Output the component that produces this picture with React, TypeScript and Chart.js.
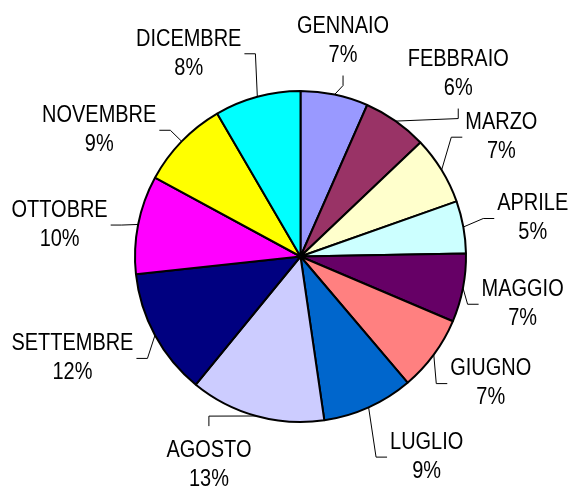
import React, { useEffect, useRef } from "react";
import { Chart, registerables } from "chart.js";

Chart.register(...registerables);

// ---- data ----
const MONTHS = [
  "GENNAIO", "FEBBRAIO", "MARZO", "APRILE", "MAGGIO", "GIUGNO",
  "LUGLIO", "AGOSTO", "SETTEMBRE", "OTTOBRE", "NOVEMBRE", "DICEMBRE",
];
const VALUES = [6.6, 6.3, 6.7, 5.1, 6.7, 7.4, 8.9, 13.2, 12.4, 9.6, 8.7, 8.4];
const COLORS = [
  "#9999FF", "#993366", "#FFFFCC", "#CCFFFF", "#660066", "#FF8080",
  "#0066CC", "#CCCCFF", "#000080", "#FF00FF", "#FFFF00", "#00FFFF",
];

// ---- label layout (manual drag offsets of the data labels, px) ----
const LABEL_NUDGE_X = [-8, 14, 0, 1, -14, -3, 29, -27, 1, 2, -17, -46];
const LABEL_NUDGE_Y = [2, -1, -4, 0, 3, -8, -6, -10, -7, 10, 28, 12];

const FONT_PX = 23;
const SCALE_X = 0.868;
const LINE_GAP = 29;
const CAP = 0.716 * FONT_PX;

const outsideLabels = {
  id: "outsideLabels",
  afterDatasetsDraw(chart: any) {
    const ctx: CanvasRenderingContext2D = chart.ctx;
    const meta = chart.getDatasetMeta(0);
    const data = chart.data.datasets[0].data as number[];
    const total = data.reduce((a, b) => a + b, 0);
    ctx.save();
    ctx.font = `${FONT_PX}px "Liberation Sans", Arial, sans-serif`;
    ctx.fillStyle = "#000";
    ctx.strokeStyle = "#000";
    ctx.lineWidth = 1;
    meta.data.forEach((el: any, i: number) => {
      const { x, y, startAngle, endAngle, outerRadius } = el.getProps(
        ["x", "y", "startAngle", "endAngle", "outerRadius"],
        true
      );
      const mid = (startAngle + endAngle) / 2;
      const dx = Math.cos(mid);
      const dy = Math.sin(mid);
      const ax = x + dx * outerRadius;
      const ay = y + dy * outerRadius;
      const name = String(chart.data.labels[i]);
      const pct = Math.round((data[i] / total) * 100) + "%";
      const w =
        Math.max(ctx.measureText(name).width, ctx.measureText(pct).width) *
        SCALE_X;
      const D = outerRadius + 34;
      const cx = x + dx * D + (dx * w) / 2 + LABEL_NUDGE_X[i];
      const cy = y + dy * D + dy * 25 + LABEL_NUDGE_Y[i];

      // text
      const lines = [name, pct];
      lines.forEach((t, k) => {
        const base = cy + (k === 0 ? -LINE_GAP / 2 : LINE_GAP / 2) + CAP / 2;
        ctx.save();
        ctx.translate(cx, base);
        ctx.scale(SCALE_X, 1);
        ctx.textAlign = "center";
        ctx.textBaseline = "alphabetic";
        ctx.fillText(t, 0, 0);
        ctx.restore();
      });

      // leader line
      const top = cy - LINE_GAP / 2 - CAP / 2;
      const bottom = cy + LINE_GAP / 2 + CAP / 2;
      const left = cx - w / 2;
      const right = cx + w / 2;
      let pts: number[][];
      if (ax >= left - 14 && ax <= right + 14) {
        if (ay > cy) {
          const ty = bottom + 14;
          const sy = Math.min(ty + 10, Math.max(ty, ay));
          pts = [[cx, ty], [cx, sy], [ax, ay]];
        } else {
          const ty = top - 14;
          const sy = Math.max(ty - 10, Math.min(ty, ay));
          pts = [[cx, ty], [cx, sy], [ax, ay]];
        }
      } else if (ax < left) {
        pts = [[left - 3, cy + 2], [left - 14, cy + 2], [ax, ay]];
      } else {
        pts = [[right + 3, cy + 2], [right + 14, cy + 2], [ax, ay]];
      }
      ctx.beginPath();
      ctx.moveTo(pts[0][0], pts[0][1]);
      for (let k = 1; k < pts.length; k++) ctx.lineTo(pts[k][0], pts[k][1]);
      ctx.stroke();
    });
    ctx.restore();
  },
};

export default function App() {
  const ref = useRef<HTMLCanvasElement>(null);
  useEffect(() => {
    const chart = new Chart(ref.current as HTMLCanvasElement, {
      type: "pie",
      data: {
        labels: MONTHS,
        datasets: [
          {
            data: VALUES,
            backgroundColor: COLORS,
            borderColor: "#000",
            borderWidth: 2,
            hoverOffset: 0,
          },
        ],
      },
      options: {
        responsive: false,
        animation: false,
        events: [],
        layout: { padding: { left: 134, right: 103, top: 90, bottom: 65 } },
        plugins: {
          legend: { display: false },
          tooltip: { enabled: false },
        },
      },
      plugins: [outsideLabels],
    } as any);
    return () => chart.destroy();
  }, []);
  return (
    <div
      style={{
        position: "fixed",
        left: 0,
        top: 0,
        width: 570,
        height: 488,
        background: "#fff",
      }}
    >
      <canvas
        ref={ref}
        width={570}
        height={488}
        style={{ display: "block", width: 570, height: 488 }}
      />
    </div>
  );
}
